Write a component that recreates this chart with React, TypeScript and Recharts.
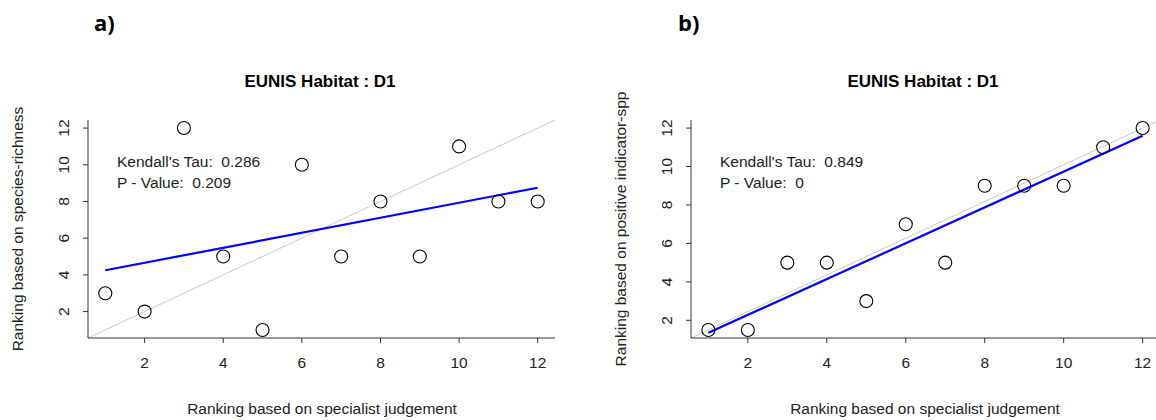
import { ScatterChart, Scatter, XAxis, YAxis, ReferenceLine } from 'recharts'

const rankExpert = [1, 2, 3, 4, 5, 6, 7, 8, 9, 10, 11, 12]
const rankRichness = [3, 2, 12, 5, 1, 10, 5, 8, 5, 11, 8, 8]
const rankIndicator = [1.5, 1.5, 5, 5, 3, 7, 5, 9, 9, 9, 11, 12]
const fitRichness = [4.25, 8.75] // fitted at x = 1 and x = 12
const fitIndicator = [1.35, 11.6]
const ticks = [2, 4, 6, 8, 10, 12]

const FONT = '"Liberation Sans", Arial, sans-serif'

const XTick = (props: any) => (
  <text x={props.x} y={props.y + 23} textAnchor="middle" fontSize={15.5} fill="#222" fontFamily={FONT}>
    {props.payload.value}
  </text>
)
const YTick = (props: any) => (
  <text
    x={props.x - 12}
    y={props.y}
    textAnchor="middle"
    fontSize={15.5}
    fill="#222"
    fontFamily={FONT}
    transform={`rotate(-90 ${props.x - 12} ${props.y})`}
  >
    {props.payload.value}
  </text>
)

const Circle = (props: any) => (
  <circle cx={props.cx} cy={props.cy} r={6.5} fill="none" stroke="#000" strokeWidth={1.1} />
)

function Panel(props: {
  ys: number[]
  fit: number[]
  yDomain: [number, number]
  marginLeft: number
  marginRight: number
  tagX: number
  xLabelX: number
  ylabel: string
  tau: string
  p: string
  tag: string
}) {
  const data = rankExpert.map((x, i) => ({ x, y: props.ys[i] }))
  const [lo, hi] = props.yDomain
  const plotLeft = props.marginLeft + 40
  return (
    <div style={{ position: 'relative', width: 580, height: 420 }}>
      <ScatterChart width={580} height={420} margin={{ top: 120, right: props.marginRight, bottom: 52, left: props.marginLeft }}>
        <XAxis
          type="number"
          dataKey="x"
          domain={[0.56, 12.44]}
          ticks={ticks}
          height={30}
          tick={<XTick />}
          tickSize={5}
          stroke="#333"
          allowDataOverflow
        />
        <YAxis
          type="number"
          dataKey="y"
          domain={props.yDomain}
          ticks={ticks}
          width={40}
          tick={<YTick />}
          tickSize={5}
          stroke="#333"
          allowDataOverflow
        />
        <ReferenceLine
          segment={[{ x: 0.56, y: lo }, { x: 12.44, y: hi }]}
          stroke="#c8c8c8"
          strokeWidth={1}
          ifOverflow="hidden"
        />
        <ReferenceLine
          segment={[{ x: 1, y: props.fit[0] }, { x: 12, y: props.fit[1] }]}
          stroke="#0000ff"
          strokeWidth={2.2}
        />
        <Scatter data={data} shape={<Circle />} isAnimationActive={false} />
      </ScatterChart>
      <div style={{ position: 'absolute', left: 0, top: 0, width: 580, height: 420, pointerEvents: 'none' }}>
        <svg width={580} height={420} style={{ fontFamily: FONT }}>
          <text x={props.tagX} y={31} fontSize={22} fontWeight="bold" fontFamily='"Open Sans", "Liberation Sans", sans-serif'>
            {props.tag}
          </text>
          <text x={plotLeft + 232} y={87} textAnchor="middle" fontSize={17} fontWeight="bold">
            EUNIS Habitat : D1
          </text>
          <text x={plotLeft + 29} y={167} fontSize={15.5} fill="#222" style={{ whiteSpace: 'pre' }}>
            {props.tau}
          </text>
          <text x={plotLeft + 29} y={188} fontSize={15.5} fill="#222" style={{ whiteSpace: 'pre' }}>
            {props.p}
          </text>
          <text x={props.xLabelX} y={414} textAnchor="middle" fontSize={15.5} fill="#222">
            Ranking based on specialist judgement
          </text>
          <text
            x={plotLeft - 65}
            y={229}
            textAnchor="middle"
            fontSize={15.5}
            fill="#222"
            transform={`rotate(-90 ${plotLeft - 65} 229)`}
          >
            {props.ylabel}
          </text>
        </svg>
      </div>
    </div>
  )
}

export default function App() {
  return (
    <div style={{ position: 'absolute', left: 0, top: 0, width: 1156, height: 420, overflow: 'hidden', background: '#fff' }}>
      <div style={{ position: 'absolute', left: 0, top: 0 }}>
        <Panel
          ys={rankRichness}
          fit={fitRichness}
          yDomain={[0.56, 12.44]}
          marginLeft={48}
          marginRight={25}
          tagX={94}
          xLabelX={322}
          ylabel="Ranking based on species-richness"
          tau="Kendall's Tau:  0.286"
          p="P - Value:  0.209"
          tag="a)"
        />
      </div>
      <div style={{ position: 'absolute', left: 580, top: 0 }}>
        <Panel
          ys={rankIndicator}
          fit={fitIndicator}
          yDomain={[1.08, 12.42]}
          marginLeft={71}
          marginRight={0}
          tagX={98}
          xLabelX={345}
          ylabel="Ranking based on positive indicator-spp"
          tau="Kendall's Tau:  0.849"
          p="P - Value:  0"
          tag="b)"
        />
      </div>
    </div>
  )
}
